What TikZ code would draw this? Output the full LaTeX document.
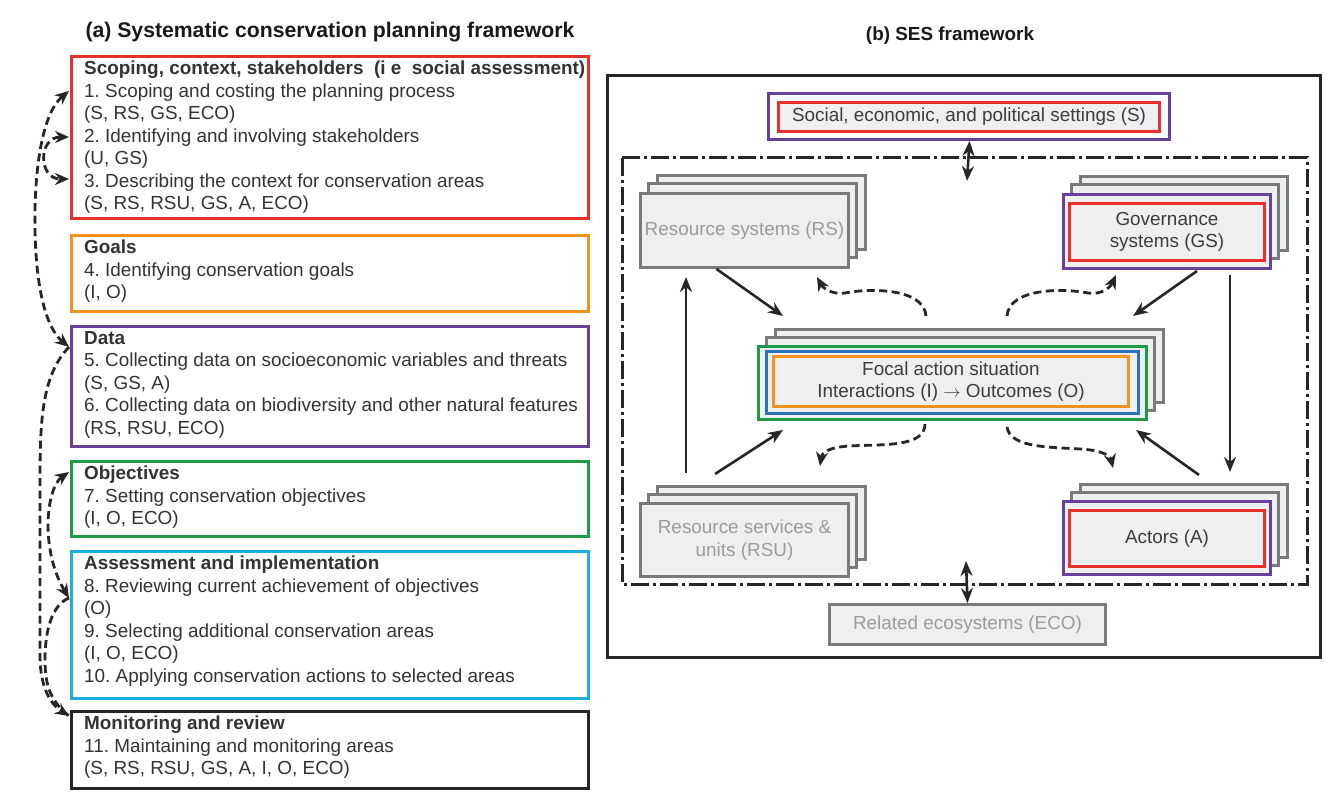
\documentclass[tikz,border=0pt]{standalone}
\usepackage{fontspec}
\setmainfont{Liberation Sans}
\usetikzlibrary{arrows.meta,calc}
\definecolor{cred}{HTML}{E8312B}
\definecolor{corange}{HTML}{F5921E}
\definecolor{cpurple}{HTML}{66429A}
\definecolor{cgreen}{HTML}{1F9A45}
\definecolor{ccyan}{HTML}{1DAEE6}
\definecolor{cblue}{HTML}{2C72BA}
\definecolor{bfill}{HTML}{EEEFF1}
\definecolor{bdraw}{HTML}{7A7A7A}
\definecolor{gtext}{HTML}{9B9B9B}
\definecolor{dtext}{HTML}{3C3C3C}
\definecolor{ltext}{HTML}{333333}
\frenchspacing
\newcommand{\backstack}[4]{%
  \draw[stackback] (#1+18,#2-16) rectangle (#3+18,#4-16);
  \draw[stackback] (#1+9,#2-8) rectangle (#3+9,#4-8);}
\tikzset{
  Dt/.tip={Stealth[length=14pt,width=12pt]},
  St/.tip={Stealth[length=15pt,width=12pt]},
  lbox/.style={draw=#1, line width=3pt, anchor=north west, inner sep=0pt, minimum width=517pt},
  lt/.style={anchor=north west, inner sep=0pt, align=left, text=ltext, font=\fontsize{18.9}{22.5}\selectfont},
  stackback/.style={draw=bdraw, fill=bfill, line width=3pt},
  front/.style={draw=bdraw, fill=bfill, line width=3pt, inner sep=0pt, anchor=north west},
  colbox/.style={draw=#1, fill=bfill, line width=3pt, inner sep=0pt, anchor=north west},
  arr/.style={-St, line width=2.6pt, draw=black!85},
  dsh/.style={line width=2.8pt, draw=black!85, dash pattern=on 8pt off 4.5pt},
  ttl/.style={font=\fontsize{#1}{24}\selectfont\bfseries, text=black!90}
}
\begin{document}
\begin{tikzpicture}[x=1pt,y=-1pt, font=\fontsize{18.9}{22.5}\selectfont]
\fill[white] (0,0) rectangle (1343,802);
\useasboundingbox (0,0) rectangle (1343,802);

% ---------- titles
\node[ttl=21.2] (ta) at (330,32) {(a) Systematic conservation planning framework};
\node[ttl=18.9] (tb) at (950,36) {(b) SES framework};

% ---------- left boxes
\node[lbox=cred, minimum height=162pt] (bscope) at (70,55) {};
\node[lbox=corange, minimum height=76pt] (bgoal) at (70,234) {};
\node[lbox=cpurple, minimum height=120pt] (bdata) at (70,325) {};
\node[lbox=cgreen, minimum height=75pt] (bobj) at (70,460) {};
\node[lbox=ccyan, minimum height=147pt] (bass) at (70,550) {};
\node[lbox=black!85, minimum height=77pt] (bmon) at (70,710) {};

\node[lt] (xscope) at (84,61) {\textbf{Scoping, context, stakeholders~ (i e~ social assessment)}\\
1. Scoping and costing the planning process\\
(S, RS, GS, ECO)\\
2. Identifying and involving stakeholders\\
(U, GS)\\
3. Describing the context for conservation areas\\
(S, RS, RSU, GS, A, ECO)};
\node[lt] (xgoal) at (84,240) {\textbf{Goals}\\
4. Identifying conservation goals\\
(I, O)};
\node[lt] (xdata) at (84,331) {\textbf{Data}\\
5. Collecting data on socioeconomic variables and threats\\
(S, GS, A)\\
6. Collecting data on biodiversity and other natural features\\
(RS, RSU, ECO)};
\node[lt] (xobj) at (84,466) {\textbf{Objectives}\\
7. Setting conservation objectives\\
(I, O, ECO)};
\node[lt] (xass) at (84,556) {\textbf{Assessment and implementation}\\
8. Reviewing current achievement of objectives\\
(O)\\
9. Selecting additional conservation areas\\
(I, O, ECO)\\
10. Applying conservation actions to selected areas};
\node[lt] (xmon) at (84,716) {\textbf{Monitoring and review}\\
11. Maintaining and monitoring areas\\
(S, RS, RSU, GS, A, I, O, ECO)};

% left dashed connectors
\coordinate (t1) at (69,91);
\coordinate (t2) at (69,137);
\coordinate (t3) at (69,179);
\coordinate (d1) at (69,347);
\coordinate (o1) at (69,472);
\coordinate (t9) at (69,598);
\coordinate (m1) at (69,716);
\draw[dsh,Dt-Dt] (t1) .. controls (40,115) and (34,180) .. (35,230) .. controls (36,285) and (45,327) .. (d1);
\draw[dsh,Dt-Dt] (t2) .. controls (38,137) and (38,179) .. (t3);
\draw[dsh,-Dt] (d1) .. controls (42,375) and (40,420) .. (40,480) -- (40,655) .. controls (40,690) and (52,705) .. (m1);
\draw[dsh,Dt-Dt] (o1) .. controls (46,488) and (40,550) .. (t9);
\draw[dsh] (t9) .. controls (52,605) and (45,630) .. (45,660) .. controls (45,688) and (52,702) .. (m1);

% ---------- right panel frames
\draw[line width=3pt, black!85] (607,76) rectangle (1320,657);
\draw[line width=3pt, black!85, dash pattern=on 18pt off 4pt on 3pt off 4pt] (622,158) rectangle (1307,584);

% settings
\node[colbox=cpurple, minimum width=401pt, minimum height=46pt, fill=white] (set) at (767,92) {};
\node[colbox=cred, minimum width=381pt, minimum height=29pt, text=dtext] (setin) at (777,101) {Social, economic, and political settings (S)};

% resource systems
\backstack{639}{192}{847}{266}
\node[front, minimum width=208pt, minimum height=74pt, text=gtext] (rs) at (639,192) {\raisebox{4pt}{Resource systems (RS)}};

% governance
\backstack{1062}{193}{1269}{267}
\node[colbox=cpurple, minimum width=207pt, minimum height=74pt] (gs) at (1062,193) {};
\node[colbox=cred, minimum width=195pt, minimum height=57pt, align=center, text=dtext] (gsin) at (1068,202) {Governance\\systems (GS)};

% focal
\backstack{757}{345}{1145}{418}
\node[colbox=cgreen, minimum width=388pt, minimum height=73pt] (foc) at (757,345) {};
\node[colbox=cblue, minimum width=372pt, minimum height=62pt] (focb) at (765,350) {};
\node[colbox=corange, minimum width=355pt, minimum height=50pt, align=center, text=dtext] (foco) at (772,355) {Focal action situation\\Interactions (I) $\rightarrow$\ Outcomes (O)};

% RSU
\backstack{639}{502}{847}{575}
\node[front, minimum width=208pt, minimum height=73pt, align=center, text=gtext] (rsu) at (639,502) {Resource services \&\\units (RSU)};

% actors
\backstack{1062}{500}{1269}{573}
\node[colbox=cpurple, minimum width=207pt, minimum height=73pt] (act) at (1062,500) {};
\node[colbox=cred, minimum width=195pt, minimum height=56pt, text=dtext] (actin) at (1068,509) {Actors (A)};

% ECO
\node[front, minimum width=276pt, minimum height=40pt, text=gtext] (eco) at (828,603) {Related ecosystems (ECO)};

% solid arrows
\draw[arr] ([xshift=-28pt]rs.south) -- ([xshift=26pt,yshift=29pt]foc.north west);
\draw[arr] ([xshift=47pt,yshift=29pt]rsu.north west) -- ([xshift=47pt,yshift=-8pt]rs.south west);
\draw[arr] ([xshift=76pt,yshift=28pt]rsu.north west) -- ([xshift=26pt,yshift=-9pt]foc.south west);
\draw[arr] ([xshift=135pt,yshift=-1pt]gs.south west) -- ([xshift=-15pt,yshift=29pt]foc.north east);
\draw[arr] ([xshift=168pt,yshift=-5pt]gs.south west) -- ([xshift=168pt,yshift=28pt]act.north west);
\draw[arr] ([xshift=137pt,yshift=25pt]act.north west) -- ([xshift=-12pt,yshift=-9pt]foc.south east);

% double arrows
\coordinate (sdn) at (967,181);
\coordinate (eup) at (966,561);
\draw[arr,St-St] ([xshift=0.5pt]set.south) -- (sdn);
\draw[arr,St-St] (eco.north) -- (eup);

% dashed wavy arrows
\coordinate (w1s) at (926,316); \coordinate (w1e) at (817,277);
\coordinate (w2s) at (1007,316); \coordinate (w2e) at (1116,275);
\coordinate (w3s) at (925,424); \coordinate (w3e) at (820,466);
\coordinate (w4s) at (1007,427); \coordinate (w4e) at (1113,468);
\draw[dsh,-Dt] (w1s) .. controls (924,288) and (870,288) .. (845,293) .. controls (832,295) and (823,288) .. (w1e);
\draw[dsh,-Dt] (w2s) .. controls (1009,288) and (1063,288) .. (1088,293) .. controls (1101,295) and (1110,288) .. (w2e);
\draw[dsh,-Dt] (w3s) .. controls (925,448) and (880,444) .. (850,446) .. controls (830,447) and (822,452) .. (w3e);
\draw[dsh,-Dt] (w4s) .. controls (1010,448) and (1050,447) .. (1080,449) .. controls (1100,450) and (1110,455) .. (w4e);
\end{tikzpicture}
\end{document}
